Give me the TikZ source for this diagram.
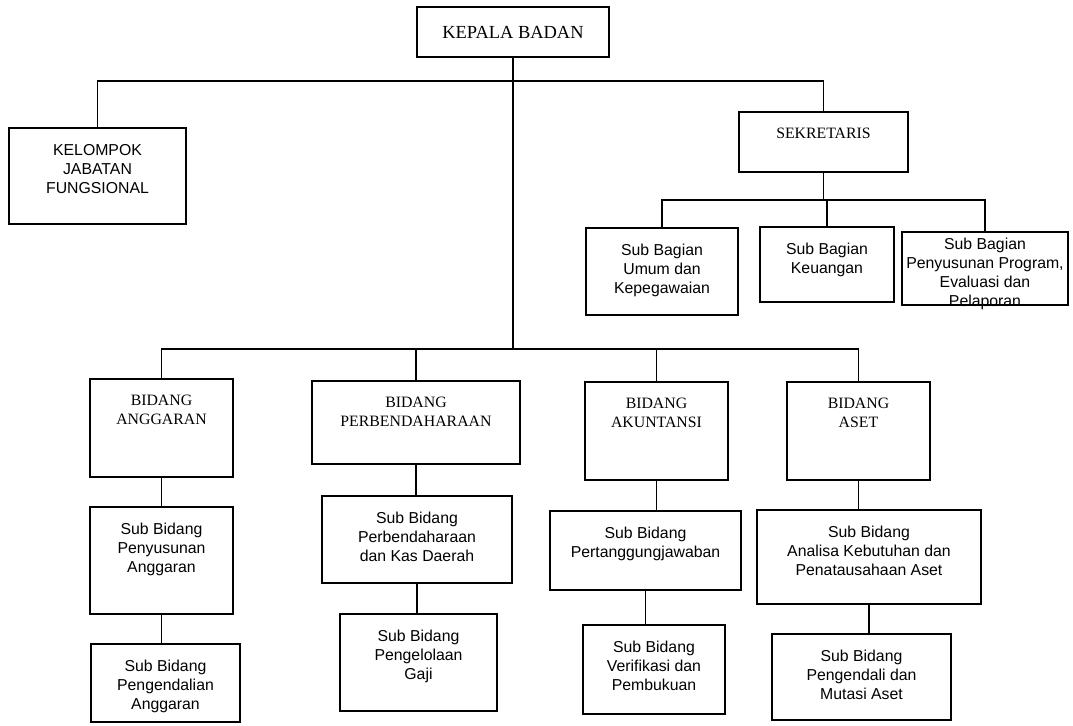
\documentclass[tikz,border=0pt]{standalone}
\usepackage{fontspec}
\setmainfont{Liberation Serif}
\setsansfont{Liberation Sans}
\begin{document}
\begin{tikzpicture}[
    x=0.02cm, y=-0.02cm,
    box/.style={rectangle, draw, line width=1pt, inner sep=0pt},
    captext/.style={anchor=north, align=center, inner sep=0pt, yshift=-0.34cm, font=\fontsize{9}{10.8}\selectfont},
    subtext/.style={captext, font=\sffamily\fontsize{9}{10.8}\selectfont},
    link/.style={line width=1pt}
]
    \useasboundingbox (0,0) rectangle (1073,726);

    \node[box, minimum width=3.84cm, minimum height=1cm, font=\fontsize{10.5}{12}\selectfont] (kepala) at (513,32) {KEPALA BADAN};
    \node[box, minimum width=3.54cm, minimum height=1.92cm, label={[subtext]north:{KELOMPOK\\JABATAN\\FUNGSIONAL}}] (kelompok) at (97.5,176) {};
    \node[box, minimum width=3.38cm, minimum height=1.2cm, label={[captext]north:SEKRETARIS}] (sekretaris) at (823.5,142) {};

    \node[box, minimum width=3.04cm, minimum height=1.74cm, label={[subtext]north:{Sub Bagian\\Umum dan\\Kepegawaian}}] (umum) at (662,271.5) {};
    \node[box, minimum width=2.68cm, minimum height=1.5cm, label={[subtext]north:{Sub Bagian\\Keuangan}}] (keuangan) at (827,264.5) {};
    \node[box, minimum width=3.32cm, minimum height=1.46cm, label={[subtext, yshift=0.2cm]north:{Sub Bagian\\Penyusunan Program,\\Evaluasi dan\\Pelaporan}}] (program) at (985,268.5) {};

    \node[box, minimum width=2.86cm, minimum height=1.96cm, label={[captext]north:{BIDANG\\ANGGARAN}}] (anggaran) at (161.5,428) {};
    \node[box, minimum width=4.16cm, minimum height=1.66cm, label={[captext]north:{BIDANG\\PERBENDAHARAAN}}] (perbend) at (416,422.5) {};
    \node[box, minimum width=2.86cm, minimum height=1.96cm, label={[captext]north:{BIDANG\\AKUNTANSI}}] (akuntansi) at (656.5,431) {};
    \node[box, minimum width=2.86cm, minimum height=1.96cm, label={[captext]north:{BIDANG\\ASET}}] (aset) at (858.5,431) {};

    \node[box, minimum width=2.86cm, minimum height=2.14cm, label={[subtext]north:{Sub Bidang\\Penyusunan\\Anggaran}}] (penyusunan) at (161.5,560.5) {};
    \node[box, minimum width=2.98cm, minimum height=1.56cm, label={[subtext]north:{Sub Bidang\\Pengendalian\\Anggaran}}] (pengendalian) at (165.5,683) {};
    \node[box, minimum width=3.8cm, minimum height=1.74cm, label={[subtext]north:{Sub Bidang\\Perbendaharaan\\dan Kas Daerah}}] (kas) at (417,539.5) {};
    \node[box, minimum width=3.14cm, minimum height=1.94cm, label={[subtext]north:{Sub Bidang\\Pengelolaan\\Gaji}}] (gaji) at (418.5,662.5) {};
    \node[box, minimum width=3.82cm, minimum height=1.58cm, label={[subtext]north:{Sub Bidang\\Pertanggungjawaban}}] (pertanggung) at (645.5,550.5) {};
    \node[box, minimum width=2.84cm, minimum height=1.78cm, label={[subtext]north:{Sub Bidang\\Verifikasi dan\\Pembukuan}}] (verifikasi) at (654,669.5) {};
    \node[box, minimum width=4.48cm, minimum height=1.88cm, label={[subtext]north:{Sub Bidang\\Analisa Kebutuhan dan\\Penatausahaan Aset}}] (analisa) at (869,557) {};
    \node[box, minimum width=3.58cm, minimum height=1.72cm, label={[subtext]north:{Sub Bidang\\Pengendali dan\\Mutasi Aset}}] (mutasi) at (861.5,677) {};

    \coordinate (topbus) at (513,81);
    \coordinate (midbus) at (513,349);
    \coordinate (sekbus) at (823.5,200);

    \draw[link] (kepala.south) -- (midbus);
    \draw[link] (kelompok.north) |- (topbus) -| (sekretaris.north);
    \draw[link] (sekretaris.south) -- (sekbus);
    \draw[link] (umum.north) |- (sekbus) -| (program.north);
    \draw[link] (keuangan.north) -- (keuangan.north |- sekbus);
    \draw[link] (anggaran.north) |- (midbus) -| (aset.north);
    \draw[link] (perbend.north) -- (perbend.north |- midbus);
    \draw[link] (akuntansi.north) -- (akuntansi.north |- midbus);
    \foreach \a/\b in {anggaran/penyusunan, penyusunan/pengendalian, perbend/kas, kas/gaji, akuntansi/pertanggung, pertanggung/verifikasi, aset/analisa, analisa/mutasi}
        \draw[link] (\a.south) -- (\a.south |- \b.north);
\end{tikzpicture}
\end{document}
